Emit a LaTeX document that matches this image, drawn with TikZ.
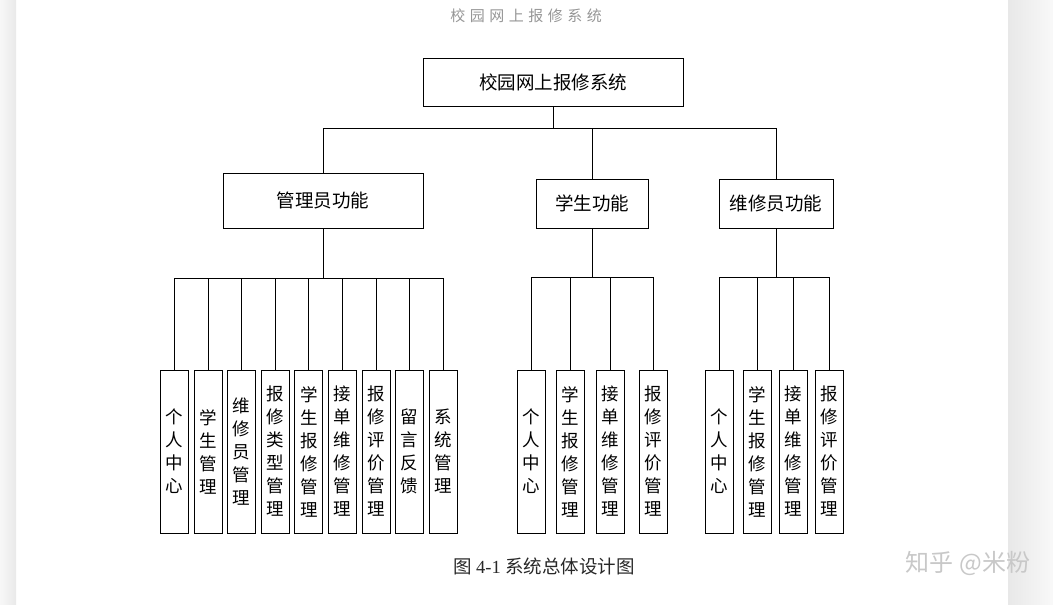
\documentclass[tikz,border=0pt]{standalone}
\usepackage{fontspec}
\setmainfont{Liberation Serif}
\newfontfamily\cjk{Noto Sans CJK SC}
\usetikzlibrary{calc}

\definecolor{titlegray}{RGB}{150,150,150}
\definecolor{capgray}{RGB}{40,40,40}
\definecolor{markgray}{RGB}{200,200,200}

\tikzset{
  funcbox/.style={draw, inner sep=0pt, font=\cjk\fontsize{18.5}{22}\selectfont},
  leafbox/.style={draw, minimum width=28pt, minimum height=163pt, inner sep=0pt,
    align=center, font=\cjk\fontsize{17.5}{23}\selectfont}
}

\begin{document}
\begin{tikzpicture}[x=1pt, y=-1pt, line width=0.9pt]
				\useasboundingbox (0, 0) rectangle (1053, 605);

				% page edges
				\fill[left color=gray!6, right color=gray!17] (0, 0) rectangle (16, 605);
				\fill[left color=gray!18, right color=gray!5] (1008, 0) rectangle (1053, 605);

				\node[text=titlegray, font=\cjk\addfontfeature{LetterSpace=30}\fontsize{15}{18}\selectfont] (title) at (526, 16) {校园网上报修系统};

				\node[funcbox, minimum width=260pt, minimum height=48pt] (sys) at (553, 82) {校园网上报修系统};
				\node[funcbox, minimum width=200pt, minimum height=55pt] (adm) at (323, 200.5) {管理员功能};
				\node[funcbox, minimum width=112pt, minimum height=49pt] (stu) at (592, 203.5) {学生功能};
				\node[funcbox, minimum width=114pt, minimum height=49pt] (rep) at (776, 203.5) {维修员功能};

				\coordinate(topbus) at (553, 128);
				\coordinate(admbus) at (323, 278);
				\coordinate(stubus) at (592, 277);
				\coordinate(repbus) at (776, 277);

				\draw (sys.south)--(topbus);
				\foreach \n in {adm, stu, rep}
					\draw (\n.north) |- (topbus);
				\draw (adm.south)--(admbus);
				\draw (stu.south)--(stubus);
				\draw (rep.south)--(repbus);

				% admin leaves
				\foreach \t [count=\i] in {{个\\人\\中\\心}, {学\\生\\管\\理}, {维\\修\\员\\管\\理},
						{报\\修\\类\\型\\管\\理}, {学\\生\\报\\修\\管\\理}, {接\\单\\维\\修\\管\\理},
						{报\\修\\评\\价\\管\\理}, {留\\言\\反\\馈}, {系\\统\\管\\理}}{
					\node[leafbox] (adm\i) at ({174.5+33.6*(\i-1)}, 451.5) {\t};
					\draw (adm\i.north) |- (admbus);
				}

				% student leaves
				\foreach \x/\t [count=\i] in {531/{个\\人\\中\\心}, 570.5/{学\\生\\报\\修\\管\\理},
						610/{接\\单\\维\\修\\管\\理}, 653/{报\\修\\评\\价\\管\\理}}{
					\node[leafbox] (stu\i) at (\x, 451.5) {\t};
					\draw (stu\i.north) |- (stubus);
				}

				% repairer leaves
				\foreach \x/\t [count=\i] in {719/{个\\人\\中\\心}, 757.5/{学\\生\\报\\修\\管\\理},
						793/{接\\单\\维\\修\\管\\理}, 829/{报\\修\\评\\价\\管\\理}}{
					\node[leafbox] (rep\i) at (\x, 451.5) {\t};
					\draw (rep\i.north) |- (repbus);
				}

				\node[text=capgray, font=\fontsize{18.5}{22}\selectfont] (cap) at (544, 566) {{\cjk 图} 4-1 {\cjk 系统总体设计图}};
				\node[text=markgray, font=\cjk\fontsize{24}{28}\selectfont] (mark) at (968, 563) {知乎 @米粉};
			\end{tikzpicture}
\end{document}
